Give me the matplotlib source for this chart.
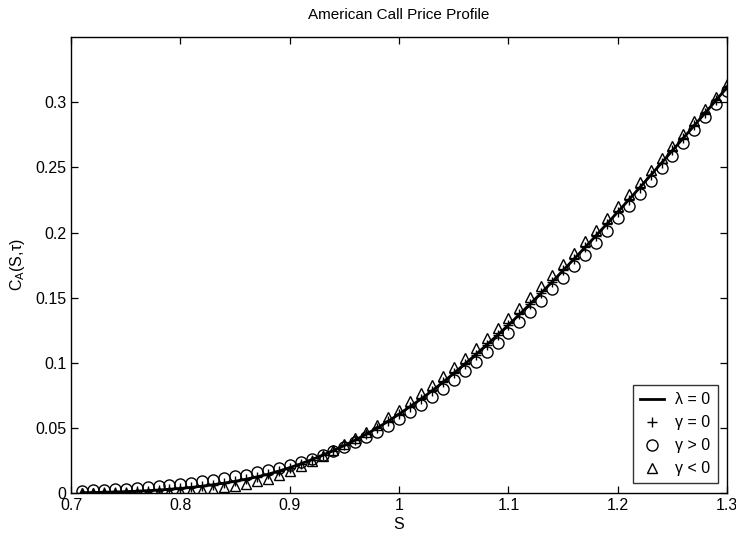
import numpy as np
import matplotlib
matplotlib.use("Agg")
import matplotlib.pyplot as plt

plt.rcParams['font.family'] = ['Liberation Sans', 'DejaVu Sans']

# asset price grid
S = [0.71, 0.72, 0.73, 0.74, 0.75, 0.76, 0.77, 0.78, 0.79, 0.80,
     0.81, 0.82, 0.83, 0.84, 0.85, 0.86, 0.87, 0.88, 0.89, 0.90,
     0.91, 0.92, 0.93, 0.94, 0.95, 0.96, 0.97, 0.98, 0.99, 1.00,
     1.01, 1.02, 1.03, 1.04, 1.05, 1.06, 1.07, 1.08, 1.09, 1.10,
     1.11, 1.12, 1.13, 1.14, 1.15, 1.16, 1.17, 1.18, 1.19, 1.20,
     1.21, 1.22, 1.23, 1.24, 1.25, 1.26, 1.27, 1.28, 1.29, 1.30]

# lambda = 0 (solid line), also gamma = 0 (plus markers)
c_lambda0 = [0.0003, 0.0004, 0.0006, 0.0008, 0.0011, 0.0014, 0.0018, 0.0023, 0.0029, 0.0035,
             0.0043, 0.0053, 0.0064, 0.0076, 0.0090, 0.0106, 0.0124, 0.0144, 0.0168, 0.0195,
             0.0224, 0.0256, 0.0290, 0.0326, 0.0365, 0.0407, 0.0452, 0.0500, 0.0551, 0.0606,
             0.0663, 0.0722, 0.0784, 0.0850, 0.0919, 0.0990, 0.1062, 0.1137, 0.1212, 0.1290,
             0.1371, 0.1453, 0.1536, 0.1622, 0.1709, 0.1797, 0.1886, 0.1975, 0.2066, 0.2158,
             0.2251, 0.2344, 0.2439, 0.2534, 0.2630, 0.2726, 0.2822, 0.2919, 0.3017, 0.3115]
c_gamma0 = c_lambda0

c_gamma_pos = [0.0018, 0.0021, 0.0025, 0.0029, 0.0034, 0.0039, 0.0045, 0.0052, 0.0060, 0.0068,
               0.0078, 0.0089, 0.0101, 0.0113, 0.0127, 0.0142, 0.0158, 0.0175, 0.0195, 0.0217,
               0.0240, 0.0265, 0.0292, 0.0321, 0.0353, 0.0388, 0.0427, 0.0469, 0.0515, 0.0566,
               0.0619, 0.0675, 0.0734, 0.0798, 0.0865, 0.0934, 0.1005, 0.1079, 0.1153, 0.1230,
               0.1311, 0.1393, 0.1477, 0.1564, 0.1652, 0.1741, 0.1831, 0.1921, 0.2014, 0.2108,
               0.2203, 0.2298, 0.2395, 0.2492, 0.2590, 0.2689, 0.2788, 0.2888, 0.2989, 0.3090]

c_gamma_neg = [0.0000, 0.0000, 0.0000, 0.0000, 0.0001, 0.0002, 0.0004, 0.0007, 0.0010, 0.0014,
               0.0019, 0.0026, 0.0034, 0.0044, 0.0056, 0.0070, 0.0089, 0.0111, 0.0138, 0.0170,
               0.0205, 0.0244, 0.0285, 0.0328, 0.0373, 0.0421, 0.0472, 0.0525, 0.0581, 0.0640,
               0.0703, 0.0765, 0.0829, 0.0897, 0.0968, 0.1040, 0.1113, 0.1189, 0.1265, 0.1343,
               0.1424, 0.1506, 0.1588, 0.1673, 0.1759, 0.1846, 0.1934, 0.2022, 0.2112, 0.2203,
               0.2294, 0.2385, 0.2478, 0.2571, 0.2665, 0.2759, 0.2853, 0.2948, 0.3044, 0.3140]

fig = plt.figure(figsize=(7.36, 5.38), dpi=100)
ax = fig.add_axes([0.0965, 0.0836, 0.8915, 0.8474])

ax.plot(S, c_lambda0, '-', color='black', lw=2.0, label='λ = 0')
ax.plot(S, c_gamma0, '+', color='black', ms=7, mew=1.0, label='γ = 0')
ax.plot(S, c_gamma_pos, 'o', mfc='none', mec='black', ms=8, mew=1.0, label='γ > 0')
ax.plot(S, c_gamma_neg, '^', mfc='none', mec='black', ms=7.5, mew=1.0, label='γ < 0')

ax.set_xlim(0.7, 1.3)
ax.set_ylim(0, 0.35)
ax.set_xticks([0.7, 0.8, 0.9, 1.0, 1.1, 1.2, 1.3])
ax.set_xticklabels(['0.7', '0.8', '0.9', '1', '1.1', '1.2', '1.3'])
ax.set_yticks([0, 0.05, 0.1, 0.15, 0.2, 0.25, 0.3])
ax.set_yticklabels(['0', '0.05', '0.1', '0.15', '0.2', '0.25', '0.3'])
ax.tick_params(direction='in', top=True, right=True, length=5, labelsize=11.5, width=0.9)
for sp in ax.spines.values():
    sp.set_linewidth(1.0)

ax.set_title('American Call Price Profile', fontsize=11, pad=13)
ax.set_xlabel('S', fontsize=11.5, labelpad=3)
ax.set_ylabel('C$_\\mathregular{A}$(S,τ)', fontsize=11.5, labelpad=6)

leg = ax.legend(loc='lower right', fontsize=11.5, frameon=True, fancybox=False,
                edgecolor='black', borderaxespad=0.6, handlelength=1.5,
                labelspacing=0.5, borderpad=0.45, handletextpad=0.7)
leg.get_frame().set_linewidth(1.0)

fig.savefig('out.png', dpi=100)
